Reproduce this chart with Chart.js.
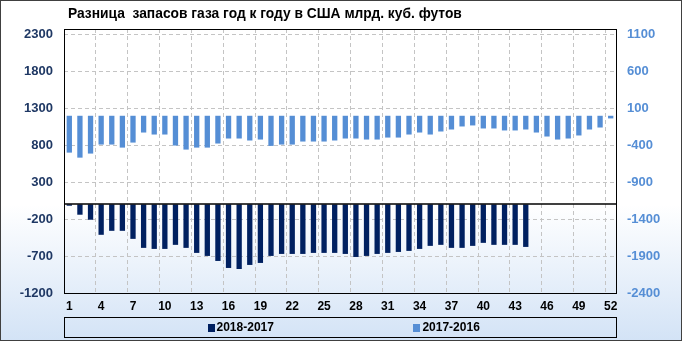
<!DOCTYPE html>
<html>
<head>
<meta charset="utf-8">
<script src="https://cdn.jsdelivr.net/npm/chart.js@4"></script>
<style>
  html, body { margin: 0; padding: 0; background: #fff; }
</style>
</head>
<body>
<canvas id="gasChart" width="682" height="341"></canvas>
<script>
  // weeks of the year
  const weeks = [1, 2, 3, 4, 5, 6, 7, 8, 9, 10, 11, 12, 13, 14, 15, 16, 17, 18, 19, 20,
    21, 22, 23, 24, 25, 26, 27, 28, 29, 30, 31, 32, 33, 34, 35, 36, 37, 38, 39, 40,
    41, 42, 43, 44, 45, 46, 47, 48, 49, 50, 51, 52];

  // 2018 vs 2017 (left axis), only 44 weeks reported
  const diff2018 = [-18, -140, -208, -412, -358, -358, -467, -589, -603, -603,
    -548, -589, -657, -698, -766, -861, -875, -820, -793, -698,
    -671, -671, -671, -657, -657, -657, -671, -712, -698, -671,
    -657, -644, -630, -603, -562, -548, -589, -589, -562, -521,
    -548, -548, -548, -576, null, null, null, null, null, null, null, null];

  // 2017 vs 2016 (right axis)
  const diff2017 = [-499, -567, -512, -390, -390, -431, -363, -227, -254, -254,
    -403, -458, -431, -431, -376, -308, -308, -335, -322, -408,
    -390, -390, -349, -349, -349, -335, -308, -308, -322, -322,
    -295, -295, -254, -227, -254, -213, -186, -145, -131, -172,
    -172, -199, -199, -186, -227, -281, -322, -308, -267, -186,
    -159, -36];

  const leftTicks = [-1200, -700, -200, 300, 800, 1300, 1800, 2300];
  const rightTicks = [-2400, -1900, -1400, -900, -400, 100, 600, 1100];
  const seriesNames = ['2018-2017', '2017-2016'];
  const titleText = 'Разница  запасов газа год к году в США млрд. куб. футов';

  const darkBlue = '#002060';
  const lightBlue = '#558ed5';
  const gridGray = '#c4c4c4';
  const fontFamily = '"Liberation Sans", Arial, sans-serif';

  // background, zero line, frame, title and boxed legend
  const decor = {
    id: 'decor',
    beforeDraw(chart) {
      const { ctx, width, height } = chart;
      const g = ctx.createLinearGradient(0, 0, 0, height);
      g.addColorStop(0, '#ffffff');
      g.addColorStop(0.6, '#ffffff');
      g.addColorStop(1, '#d3e3f6');
      ctx.save();
      ctx.fillStyle = g;
      ctx.fillRect(0, 0, width, height);
      ctx.restore();
    },
    afterDatasetsDraw(chart) {
      const { ctx, chartArea: a } = chart;
      const y0 = Math.round(chart.scales.y.getPixelForValue(0));
      ctx.save();
      ctx.strokeStyle = '#000';
      ctx.lineWidth = 1.5;
      ctx.beginPath();
      ctx.moveTo(a.left, y0);
      ctx.lineTo(a.right, y0);
      ctx.stroke();
      ctx.lineWidth = 1;
      ctx.strokeRect(Math.round(a.left) + 0.5, Math.round(a.top) + 0.5,
        Math.round(a.right - a.left), Math.round(a.bottom - a.top));
      ctx.restore();
    },
    afterDraw(chart) {
      const { ctx, chartArea: a, width, height } = chart;
      ctx.save();
      // title
      ctx.fillStyle = '#000';
      ctx.font = 'bold 13.8px ' + fontFamily;
      ctx.textBaseline = 'middle';
      ctx.textAlign = 'left';
      ctx.fillText(titleText, a.left + 4, 14);

      // legend box
      const top = 317.5, bottom = 337.5;
      ctx.strokeStyle = '#000';
      ctx.lineWidth = 1;
      ctx.strokeRect(Math.round(a.left) + 0.5, top, Math.round(a.right - a.left), bottom - top);
      const colors = [darkBlue, lightBlue];
      const spots = [0.26, 0.633];
      ctx.font = 'bold 12px ' + fontFamily;
      seriesNames.forEach((name, i) => {
        const x = a.left + (a.right - a.left) * spots[i];
        const cy = (top + bottom) / 2;
        ctx.fillStyle = colors[i];
        ctx.fillRect(Math.round(x), Math.round(cy - 4), 7, 8);
        ctx.fillStyle = '#000';
        ctx.fillText(name, x + 9, cy + 0.5);
      });

      // outer border
      ctx.strokeStyle = '#404040';
      ctx.strokeRect(0.5, 0.5, width - 1, height - 1);
      ctx.restore();
    }
  };

  const ctx = document.getElementById('gasChart').getContext('2d');
  const gasChart = new Chart(ctx, {
    type: 'bar',
    data: {
      labels: weeks,
      datasets: [{
        label: seriesNames[0],
        data: diff2018,
        yAxisID: 'y',
        backgroundColor: darkBlue,
        barPercentage: 0.5,
        categoryPercentage: 1,
        grouped: false,
      }, {
        label: seriesNames[1],
        data: diff2017,
        yAxisID: 'y1',
        backgroundColor: lightBlue,
        barPercentage: 0.5,
        categoryPercentage: 1,
        grouped: false,
      }]
    },
    options: {
      responsive: false,
      animation: false,
      layout: { padding: { top: 29, bottom: 24, left: 0, right: 0 } },
      plugins: {
        legend: { display: false },
        title: { display: false },
        tooltip: { enabled: false }
      },
      scales: {
        x: {
          offset: true,
          grid: {
            offset: true,
            drawTicks: false,
            color: (c) => (c.index % 3 === 0 && c.index > 0) ? gridGray : 'rgba(0,0,0,0)'
          },
          border: { display: false, dash: [4, 3] },
          ticks: {
            autoSkip: false,
            maxRotation: 0,
            padding: 6,
            color: '#000',
            font: { family: fontFamily, size: 12, weight: 'bold' },
            callback: (v, i) => i % 3 === 0 ? weeks[i] : ''
          },
          afterFit: (scale) => { scale.height = 24; }
        },
        y: {
          position: 'left',
          min: -1200,
          max: 2375,
          afterBuildTicks: (scale) => { scale.ticks = leftTicks.map(v => ({ value: v })); },
          grid: { color: gridGray, drawTicks: false },
          border: { display: false, dash: [4, 3] },
          ticks: {
            padding: 11,
            color: '#1f3864',
            font: { family: fontFamily, size: 13, weight: 'bold' },
            callback: (v) => String(v)
          },
          afterFit: (scale) => { scale.width = 64; }
        },
        y1: {
          position: 'right',
          min: -2400,
          max: 1175,
          afterBuildTicks: (scale) => { scale.ticks = rightTicks.map(v => ({ value: v })); },
          grid: { display: false, drawTicks: false },
          border: { display: false },
          ticks: {
            padding: 11,
            color: lightBlue,
            font: { family: fontFamily, size: 13, weight: 'bold' },
            callback: (v) => String(v)
          },
          afterFit: (scale) => { scale.width = 66; }
        }
      }
    },
    plugins: [decor]
  });
</script>
</body>
</html>
